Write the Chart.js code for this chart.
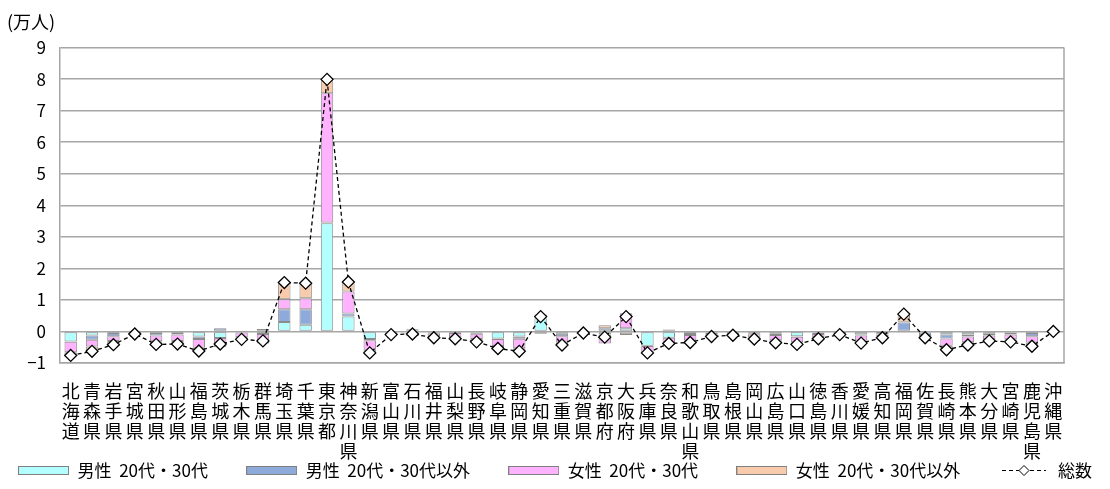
<!DOCTYPE html>
<html lang="ja">
<head>
<meta charset="utf-8">
<title>都道府県別 転入超過数</title>
<script src="https://cdn.jsdelivr.net/npm/chart.js@4.4.1/dist/chart.umd.min.js"></script>
<style>
html, body { margin: 0; padding: 0; background: #fff; }
#wrap { position: relative; width: 1110px; height: 489px; }
</style>
</head>
<body>
<div id="wrap"><canvas id="chart" width="1110" height="489"></canvas></div>
<script>
// --- data (万人) ---
const prefectures = ['北海道', '青森県', '岩手県', '宮城県', '秋田県', '山形県', '福島県', '茨城県', '栃木県', '群馬県',
    '埼玉県', '千葉県', '東京都', '神奈川県', '新潟県', '富山県', '石川県', '福井県', '山梨県', '長野県',
    '岐阜県', '静岡県', '愛知県', '三重県', '滋賀県', '京都府', '大阪府', '兵庫県', '奈良県', '和歌山県',
    '鳥取県', '島根県', '岡山県', '広島県', '山口県', '徳島県', '香川県', '愛媛県', '高知県', '福岡県',
    '佐賀県', '長崎県', '熊本県', '大分県', '宮崎県', '鹿児島県', '沖縄県'];
const male2030 = [-0.32, -0.13, -0.05, -0.02, -0.05, -0.05, -0.16, -0.21, -0.03, -0.08,
    0.30, 0.21, 3.43, 0.47, -0.24, -0.02, -0.03, -0.03, -0.05, -0.04,
    -0.22, -0.16, 0.42, -0.07, -0.03, -0.10, 0.10, -0.45, -0.20, -0.08,
    -0.03, -0.02, -0.06, -0.07, -0.15, -0.04, -0.02, -0.10, -0.02, -0.02,
    -0.03, -0.10, -0.10, -0.07, -0.03, -0.05, 0.02];
const maleOther = [-0.01, -0.13, -0.10, 0.03, -0.08, -0.05, -0.08, 0.10, 0.03, 0.08,
    0.40, 0.49, 0.02, 0.10, -0.04, -0.01, 0.07, -0.03, 0.02, -0.03,
    -0.02, -0.07, 0.02, -0.08, 0.02, 0.10, -0.04, -0.01, 0.06, -0.03,
    -0.02, -0.02, -0.03, -0.04, -0.02, -0.04, -0.03, -0.03, -0.08, 0.28,
    -0.08, -0.12, -0.06, -0.06, -0.07, -0.10, -0.01];
const female2030 = [-0.33, -0.22, -0.15, -0.05, -0.18, -0.20, -0.28, -0.21, -0.15, -0.20,
    0.32, 0.35, 4.10, 0.70, -0.30, -0.05, -0.08, -0.10, -0.14, -0.17,
    -0.22, -0.30, 0.10, -0.20, -0.03, -0.28, 0.48, -0.20, -0.20, -0.18,
    -0.08, -0.05, -0.10, -0.17, -0.17, -0.10, -0.03, -0.16, -0.06, 0.03,
    -0.06, -0.23, -0.18, -0.11, -0.15, -0.20, 0.01];
const femaleOther = [-0.10, -0.15, -0.12, -0.04, -0.10, -0.10, -0.10, -0.08, -0.10, -0.10,
    0.53, 0.48, 0.44, 0.30, -0.10, -0.02, -0.04, -0.04, -0.06, -0.09,
    -0.08, -0.10, -0.07, -0.08, -0.01, 0.10, -0.07, -0.02, -0.04, -0.06,
    -0.03, -0.03, -0.05, -0.08, -0.07, -0.05, -0.02, -0.08, -0.04, 0.26,
    -0.03, -0.13, -0.09, -0.06, -0.08, -0.12, -0.02];
const totals = [-0.76, -0.63, -0.42, -0.08, -0.41, -0.40, -0.62, -0.40, -0.25, -0.30,
    1.55, 1.53, 7.99, 1.57, -0.68, -0.10, -0.08, -0.20, -0.23, -0.33,
    -0.54, -0.63, 0.47, -0.43, -0.05, -0.18, 0.47, -0.68, -0.38, -0.35,
    -0.16, -0.12, -0.24, -0.36, -0.41, -0.23, -0.10, -0.37, -0.20, 0.55,
    -0.20, -0.58, -0.43, -0.30, -0.33, -0.47, 0.00];
const yTicks = [-1, 0, 1, 2, 3, 4, 5, 6, 7, 8, 9];
const seriesNames = ['男性  20代・30代', '男性  20代・30代以外', '女性  20代・30代', '女性  20代・30代以外', '総数'];

const JP = '"Noto Sans CJK JP", "Noto Sans", sans-serif';
const gridColor = '#a6a6a6';
const itemGap = '\u3000\u3000\u2005'; // space after each legend entry

// --- legend swatches ---
function boxSwatch(color) {
    const c = document.createElement('canvas');
    c.width = 51; c.height = 9;
    const g = c.getContext('2d');
    g.fillStyle = color;
    g.fillRect(0.5, 0.5, 50, 8);
    g.strokeStyle = '#808080';
    g.lineWidth = 1;
    g.strokeRect(0.5, 0.5, 50, 8);
    return c;
}
function lineSwatch() {
    const c = document.createElement('canvas');
    c.width = 44; c.height = 15;
    const g = c.getContext('2d');
    g.strokeStyle = '#000';
    g.lineWidth = 1;
    g.setLineDash([4, 3]);
    g.beginPath(); g.moveTo(0, 7.5); g.lineTo(44, 7.5); g.stroke();
    g.setLineDash([]);
    g.beginPath();
    g.moveTo(22, 2.5); g.lineTo(27, 7.5); g.lineTo(22, 12.5); g.lineTo(17, 7.5); g.closePath();
    g.fillStyle = '#fff'; g.fill(); g.stroke();
    return c;
}

function barSet(label, data, color) {
    return {
        label: label,
        data: data,
        backgroundColor: color,
        borderColor: '#8c8c8c',
        borderWidth: 1,
        borderSkipped: false,
        barPercentage: 0.58,
        categoryPercentage: 1.0,
        stack: 'pref',
        order: 1
    };
}

const barColors = ['#b3ffff', '#8eaadb', '#ffb3ff', '#f8cbad'];
const swatches = [...barColors.map(boxSwatch), lineSwatch()];

// unit label + right border of the plot area
const frame = {
    id: 'frame',
    beforeDatasetsDraw(chart) {
        const g = chart.ctx, a = chart.chartArea;
        g.save();
        g.strokeStyle = gridColor;
        g.lineWidth = 1.5;
        g.beginPath(); g.moveTo(a.right, a.top); g.lineTo(a.right, a.bottom); g.stroke();
        g.restore();
    },
    afterDraw(chart) {
        const g = chart.ctx;
        g.save();
        g.font = '18px ' + JP;
        g.fillStyle = '#000';
        g.textBaseline = 'middle';
        g.fillText('(万人)', 7, 22);
        g.restore();
    }
};

const ctx = document.getElementById('chart').getContext('2d');
const chart = new Chart(ctx, {
    type: 'bar',
    data: {
        labels: prefectures,
        datasets: [
            barSet(seriesNames[0], male2030, barColors[0]),
            barSet(seriesNames[1], maleOther, barColors[1]),
            barSet(seriesNames[2], female2030, barColors[2]),
            barSet(seriesNames[3], femaleOther, barColors[3]),
            {
                type: 'line',
                label: seriesNames[4],
                data: totals,
                borderColor: '#000',
                borderWidth: 1.3,
                borderDash: [4, 3],
                fill: false,
                tension: 0,
                pointStyle: 'rectRot',
                pointRadius: 6,
                pointBackgroundColor: '#fff',
                pointBorderColor: '#000',
                pointBorderWidth: 1.3,
                stack: 'total',
                order: 0
            }
        ]
    },
    options: {
        responsive: false,
        animation: false,
        devicePixelRatio: 1,
        layout: { padding: { left: 0, right: 0, top: 47.5, bottom: 0 } },
        plugins: {
            tooltip: { enabled: false },
            legend: {
                position: 'bottom',
                labels: {
                    usePointStyle: true,
                    pointStyleWidth: 51,
                    padding: 0,
                    color: '#000',
                    font: { family: JP, size: 17 },
                    generateLabels: (c) => c.data.datasets.map((ds, i) => ({
                        text: i < 4 ? ds.label + itemGap : ds.label,
                        pointStyle: swatches[i],
                        datasetIndex: i,
                        hidden: false,
                        fontColor: '#000',
                        lineWidth: 0
                    }))
                }
            }
        },
        scales: {
            x: {
                stacked: true,
                grid: { display: false, drawTicks: false },
                border: { display: true, color: gridColor, width: 1.5 },
                ticks: {
                    color: '#000',
                    font: { family: JP, size: 18, lineHeight: '20px' },
                    padding: 18,
                    maxRotation: 0,
                    autoSkip: false,
                    callback: function(v, i) { return prefectures[i].split(''); }
                },
                afterFit: s => { s.height = 99; }
            },
            y: {
                stacked: true,
                min: yTicks[0],
                max: yTicks[yTicks.length - 1],
                afterBuildTicks: s => { s.ticks = yTicks.map(v => ({ value: v })); },
                grid: { color: gridColor, lineWidth: 1.5, drawTicks: false },
                border: { display: true, color: gridColor, width: 1.5 },
                ticks: {
                    color: '#000',
                    font: { family: JP, size: 17 },
                    padding: 14,
                    callback: v => (v < 0 ? '\u2212' + Math.abs(v) : String(v))
                },
                afterFit: s => { s.width = 60; }
            },
            // empty right-hand axis that only reserves the margin right of the plot
            yRight: {
                position: 'right',
                min: yTicks[0],
                max: yTicks[yTicks.length - 1],
                grid: { display: false, drawTicks: false },
                border: { display: false },
                ticks: { display: false },
                afterFit: s => { s.width = 46; }
            }
        }
    },
    plugins: [frame]
});
</script>
</body>
</html>
